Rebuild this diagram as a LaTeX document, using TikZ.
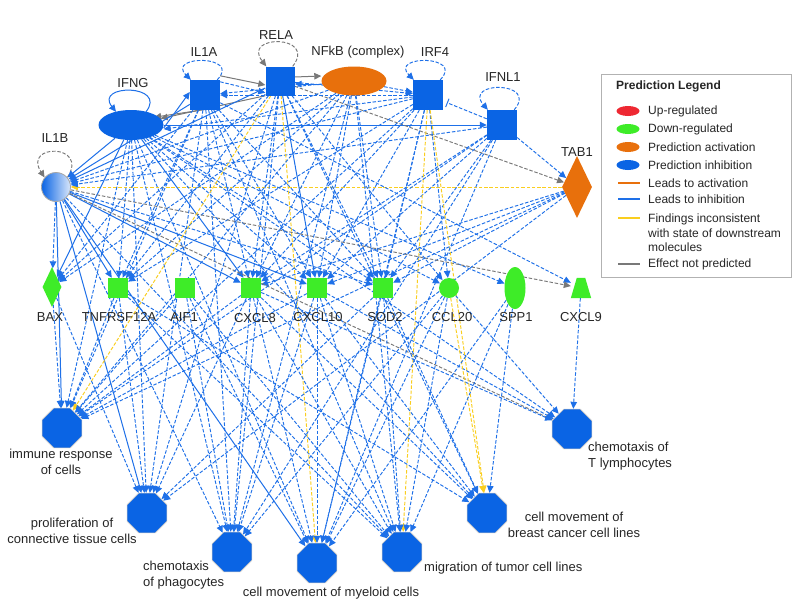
\documentclass[tikz,border=0pt]{standalone}
\usepackage{fontspec}
\setmainfont{Liberation Sans}
\usetikzlibrary{arrows.meta,shapes.geometric}
\definecolor{nblue}{RGB}{10,100,228}
\definecolor{eblue}{RGB}{30,112,232}
\definecolor{ngreen}{RGB}{62,236,40}
\definecolor{norange}{RGB}{232,112,12}
\definecolor{eyellow}{RGB}{250,206,30}
\definecolor{egray}{RGB}{120,120,120}
\definecolor{lred}{RGB}{238,40,50}
\pgfdeclarelayer{bg}
\pgfdeclarelayer{paper}
\pgfsetlayers{paper,bg,main}
\begin{document}
\begin{tikzpicture}[x=1pt,y=-1pt,
  font=\fontsize{13}{15.5}\selectfont,
  every node/.style={inner sep=0pt, text=black!85},
  bsq/.style={rectangle, fill=nblue, minimum size=30pt},
  gsq/.style={rectangle, fill=ngreen, minimum size=20pt},
  oct/.style={regular polygon, regular polygon sides=8, minimum size=43pt, fill=nblue, draw=gray!45, line width=0.6pt},
  tip/.style={-{Triangle[length=7pt,width=6.5pt]}},
  bd/.style={draw=eblue, line width=0.95pt, dash pattern=on 3.5pt off 1.8pt, tip},
  bs/.style={draw=eblue, line width=1pt, tip},
  yd/.style={draw=eyellow, line width=0.95pt, dash pattern=on 3.5pt off 1.8pt, tip},
  gd/.style={draw=egray, line width=0.95pt, dash pattern=on 3.5pt off 1.8pt, tip},
  gs/.style={draw=egray, line width=1pt, tip},
  inh/.style={draw=eblue, line width=0.95pt, dash pattern=on 3.5pt off 1.8pt, -{Bar[width=9pt]}, shorten >=4pt},
  legtxt/.style={anchor=west, font=\fontsize{12}{14.5}\selectfont, align=left},
]
\useasboundingbox (0,0) rectangle (800,614);
\begin{pgfonlayer}{paper}
\fill[white] (0,0) rectangle (800,614);
\end{pgfonlayer}

% ---------- upstream regulators ----------
\node[circle, minimum size=29pt, left color=nblue, middle color=nblue!85, right color=nblue!15, draw=gray!70, line width=0.8pt] (IL1B) at (56,187) {};
\node[ellipse, fill=nblue, minimum width=65pt, minimum height=30pt] (IFNG) at (131,125) {};
\node[bsq] (IL1A) at (205,95) {};
\node[bsq, minimum size=29pt] (RELA) at (280,81) {};
\node[ellipse, fill=norange, minimum width=65pt, minimum height=29pt] (NFKB) at (354,81) {};
\node[bsq] (IRF4) at (428,95) {};
\node[bsq] (IFNL1) at (502,125) {};
\node[diamond, fill=norange, minimum width=30pt, minimum height=62pt] (TAB1) at (577,187) {};

\node (IL1Bl) at (55,138) {IL1B};
\node (IFNGl) at (133,83) {IFNG};
\node (IL1Al) at (204,52) {IL1A};
\node (RELAl) at (276,35) {RELA};
\node (NFKBl) at (358,52) {NFkB (complex)};
\node (IRF4l) at (435,52) {IRF4};
\node (IFNL1l) at (503,77) {IFNL1};
\node (TAB1l) at (577,152) {TAB1};

% ---------- molecules ----------
\node[diamond, fill=ngreen, minimum width=19pt, minimum height=40pt] (BAX) at (52,287) {};
\node[gsq] (TNF) at (118,288) {};
\node[gsq] (AIF1) at (185,288) {};
\node[gsq] (CXCL8) at (251,288) {};
\node[gsq] (CXCL10) at (317,288) {};
\node[gsq] (SOD2) at (383,288) {};
\node[circle, fill=ngreen, minimum size=20pt] (CCL20) at (449,288) {};
\node[ellipse, fill=ngreen, minimum width=21pt, minimum height=42pt] (SPP1) at (515,288) {};
\node[rectangle, minimum size=20pt] (CXCL9) at (581,288) {};
\fill[ngreen] (CXCL9.south west) -- (CXCL9.south east) -- ([xshift=-6pt]CXCL9.north east) -- ([xshift=6pt]CXCL9.north west) -- cycle;

\node (BAXl) at (50,317) {BAX};
\node (TNFl) at (119,317) {TNFRSF12A};
\node (AIF1l) at (184,317) {AIF1};
\node (CXCL8l) at (255,318) {CXCL8};
\node (CXCL10l) at (318,317) {CXCL10};
\node (SOD2l) at (385,317) {SOD2};
\node (CCL20l) at (452,317) {CCL20};
\node (SPP1l) at (516,317) {SPP1};
\node (CXCL9l) at (581,317) {CXCL9};

% ---------- functions ----------
\node[oct] (IMM) at (62,428) {};
\node[oct] (PROL) at (147,513) {};
\node[oct] (CHPH) at (232,552) {};
\node[oct] (MYEL) at (317,563) {};
\node[oct] (MIGR) at (402,552) {};
\node[oct] (BRST) at (487,513) {};
\node[oct] (CHT) at (572,429) {};

\node[align=center] (IMMl) at (61,462) {immune response\\of cells};
\node[align=center] (PROLl) at (72,531) {proliferation of\\connective tissue cells};
\node[align=left, anchor=west] (CHPHl) at (143,575) {chemotaxis\\of phagocytes};
\node (MYELl) at (331,593) {cell movement of myeloid cells};
\node[anchor=west] (MIGRl) at (424,568) {migration of tumor cell lines};
\node[align=center] (BRSTl) at (574,525) {cell movement of\\breast cancer cell lines};
\node[align=left, anchor=west] (CHTl) at (588,456) {chemotaxis of\\T lymphocytes};

% ---------- legend ----------
\node[draw=gray!60, fill=white, line width=0.9pt, minimum width=190pt, minimum height=203pt, anchor=north west] (legend) at (601,74) {};
\node[anchor=west, font=\bfseries\fontsize{12}{14}\selectfont] (lgT) at (616,86) {Prediction Legend};
\node[ellipse, fill=lred, minimum width=23pt, minimum height=10pt] (lg1) at (628,111) {};
\node[ellipse, fill=ngreen, minimum width=23pt, minimum height=10pt] (lg2) at (628,129) {};
\node[ellipse, fill=norange, minimum width=23pt, minimum height=10pt] (lg3) at (628,147) {};
\node[ellipse, fill=nblue, minimum width=23pt, minimum height=10pt] (lg4) at (628,165) {};
\draw[norange, line width=1.8pt] (618,183) -- (640,183);
\draw[eblue, line width=1.8pt] (618,199) -- (640,199);
\draw[eyellow, line width=1.8pt] (618,218) -- (640,218);
\draw[egray, line width=1.8pt] (618,264) -- (640,264);
\node[legtxt] (lt1) at (648,111) {Up-regulated};
\node[legtxt] (lt2) at (648,129) {Down-regulated};
\node[legtxt] (lt3) at (648,147) {Prediction activation};
\node[legtxt] (lt4) at (648,165) {Prediction inhibition};
\node[legtxt] (lt5) at (648,183) {Leads to activation};
\node[legtxt] (lt6) at (648,199) {Leads to inhibition};
\node[legtxt] (lt7) at (648,233) {Findings inconsistent\\with state of downstream\\molecules};
\node[legtxt] (lt8) at (648,264) {Effect not predicted};

% ---------- connectors ----------
\begin{pgfonlayer}{bg}
% self loops
\draw[gd] (IL1B.40) .. controls +(22,-34) and +(-22,-34) .. (IL1B.140);
\draw[bs] ([xshift=15pt,yshift=-2pt]IFNG.north) .. controls +(22,-28) and +(-22,-28) .. ([xshift=-15pt,yshift=-2pt]IFNG.north);
\draw[bd] ([xshift=-3pt]IL1A.north east) .. controls +(25,-25) and +(-25,-25) .. ([xshift=1pt]IL1A.north west);
\draw[gd] ([xshift=-2pt]RELA.north east) .. controls +(25,-32) and +(-25,-32) .. ([xshift=1pt]RELA.north west);
\draw[bd] ([xshift=-3pt]IRF4.north east) .. controls +(25,-25) and +(-25,-25) .. ([xshift=1pt]IRF4.north west);
\draw[bd] ([xshift=-3pt]IFNL1.north east) .. controls +(25,-29) and +(-25,-29) .. ([xshift=1pt]IFNL1.north west);

% among regulators
\draw[bs] ([yshift=-3pt]IFNG.east) -- ([yshift=3pt]IL1A.west);
\draw[gs] ([yshift=3pt]IL1A.south east) -- ([yshift=-3pt]IFNG.north east);
\draw[gs] ([yshift=4pt]IL1A.north east) -- ([yshift=-4pt]RELA.west);
\draw[bd] ([yshift=-2pt]IL1A.north east) -- ([yshift=3pt]RELA.south west);
\draw[gs] (RELA.south west) -- (IFNG);
\draw[bs] ([yshift=-3pt]NFKB.west) -- ([yshift=-3pt]RELA.east);
\draw[gs] ([yshift=4pt]RELA.east) -- ([yshift=5pt]NFKB.west);
\draw[bd] (NFKB) -- (IRF4);
\draw[bd] (RELA) -- (IRF4);
\draw[bs] (IFNG) -- (IFNL1);
\draw[bd] (IRF4) -- ([yshift=-4pt]IFNG.east);
\draw[inh] (IFNL1) -- (IRF4);
\draw[gd] (RELA) -- (TAB1);
\draw[bd] (IFNL1) -- (TAB1);
\draw[yd] (TAB1) -- (IL1B);
\draw[bd] (NFKB) -- (IL1A);
\draw[bd] (IRF4) -- (IL1A);
\foreach \s/\st in {IFNG/bs, IL1A/bs, RELA/bs, NFKB/bd, IRF4/bd, IFNL1/bd}
  \draw[\st] (\s) -- (IL1B);

% regulators -> molecules
\foreach \s/\t/\st in {
  IL1B/BAX/bd, IL1B/TNF/bs, IL1B/CXCL8/bs, IL1B/CXCL10/bs, IL1B/SOD2/bd,
  IFNG/BAX/bs, IFNG/TNF/bd, IFNG/CXCL8/bs, IFNG/CXCL10/bd, IFNG/SOD2/bd, IFNG/CCL20/bd, IFNG/SPP1/bd,
  IL1A/BAX/bd, IL1A/TNF/bd, IL1A/CXCL8/bd, IL1A/CXCL10/bd, IL1A/SOD2/bd, IL1A/CXCL9/bd,
  RELA/TNF/bd, RELA/CXCL8/bd, RELA/CXCL10/bs, RELA/SOD2/bd, RELA/CCL20/bd, RELA/BAX/bd,
  NFKB/BAX/bd, NFKB/CXCL8/bd, NFKB/CXCL10/bd, NFKB/SOD2/bd, NFKB/TNF/bd,
  IRF4/TNF/bd, IRF4/CXCL10/bd, IRF4/SOD2/bd, IRF4/CCL20/bd, IRF4/CXCL8/bd,
  IFNL1/CXCL8/bd, IFNL1/CXCL10/bd, IFNL1/SOD2/bd,
  TAB1/CXCL8/bd, TAB1/CXCL10/bd, TAB1/SOD2/bd,
  IL1B/CXCL9/gd}
  \draw[\st] (\s) -- (\t);

% regulators -> functions
\foreach \s/\t/\st in {
  IL1B/IMM/bs, IL1B/PROL/bs, IL1B/CHPH/bd, IL1B/MYEL/bs, IL1B/MIGR/bd, IL1B/CHT/gd,
  IFNG/IMM/bd, IFNG/PROL/bd, IFNG/CHPH/bd, IFNG/MYEL/bd, IFNG/BRST/bd, IFNG/CHT/bd,
  IL1A/IMM/bd, IL1A/PROL/bd, IL1A/CHPH/bd, IL1A/MIGR/bd,
  RELA/IMM/yd, RELA/MYEL/yd, RELA/PROL/bd, RELA/CHPH/bd, RELA/BRST/bd,
  NFKB/IMM/bd, NFKB/CHPH/bd, NFKB/MIGR/bd,
  IRF4/MIGR/yd, IRF4/BRST/yd, IRF4/IMM/bd, IRF4/MYEL/bd,
  IFNL1/IMM/bd, IFNL1/CHPH/bd, IFNL1/MYEL/bd,
  TAB1/IMM/bd, TAB1/PROL/bd}
  \draw[\st] (\s) -- (\t);

% molecules -> functions
\foreach \s/\t/\st in {
  BAX/IMM/bd, BAX/PROL/bd,
  TNF/IMM/bd, TNF/PROL/bd, TNF/MIGR/bd, TNF/BRST/bd,
  AIF1/IMM/bd, AIF1/CHPH/bd, AIF1/MYEL/bd, AIF1/MIGR/bd,
  CXCL8/IMM/bd, CXCL8/PROL/bd, CXCL8/CHPH/bd, CXCL8/MYEL/bd, CXCL8/MIGR/bd, CXCL8/BRST/bd, CXCL8/CHT/bd,
  CXCL10/IMM/bd, CXCL10/CHPH/bd, CXCL10/MYEL/bd, CXCL10/MIGR/bd, CXCL10/BRST/bd, CXCL10/CHT/bd,
  SOD2/PROL/bd, SOD2/MYEL/bd, SOD2/MIGR/bd, SOD2/BRST/bd,
  CCL20/CHPH/bd, CCL20/MYEL/bd, CCL20/MIGR/bd, CCL20/BRST/yd, CCL20/CHT/bd,
  SPP1/MYEL/bd, SPP1/MIGR/bd, SPP1/BRST/bd,
  CXCL9/CHT/bd}
  \draw[\st] (\s) -- (\t);
\end{pgfonlayer}
\end{tikzpicture}
\end{document}
